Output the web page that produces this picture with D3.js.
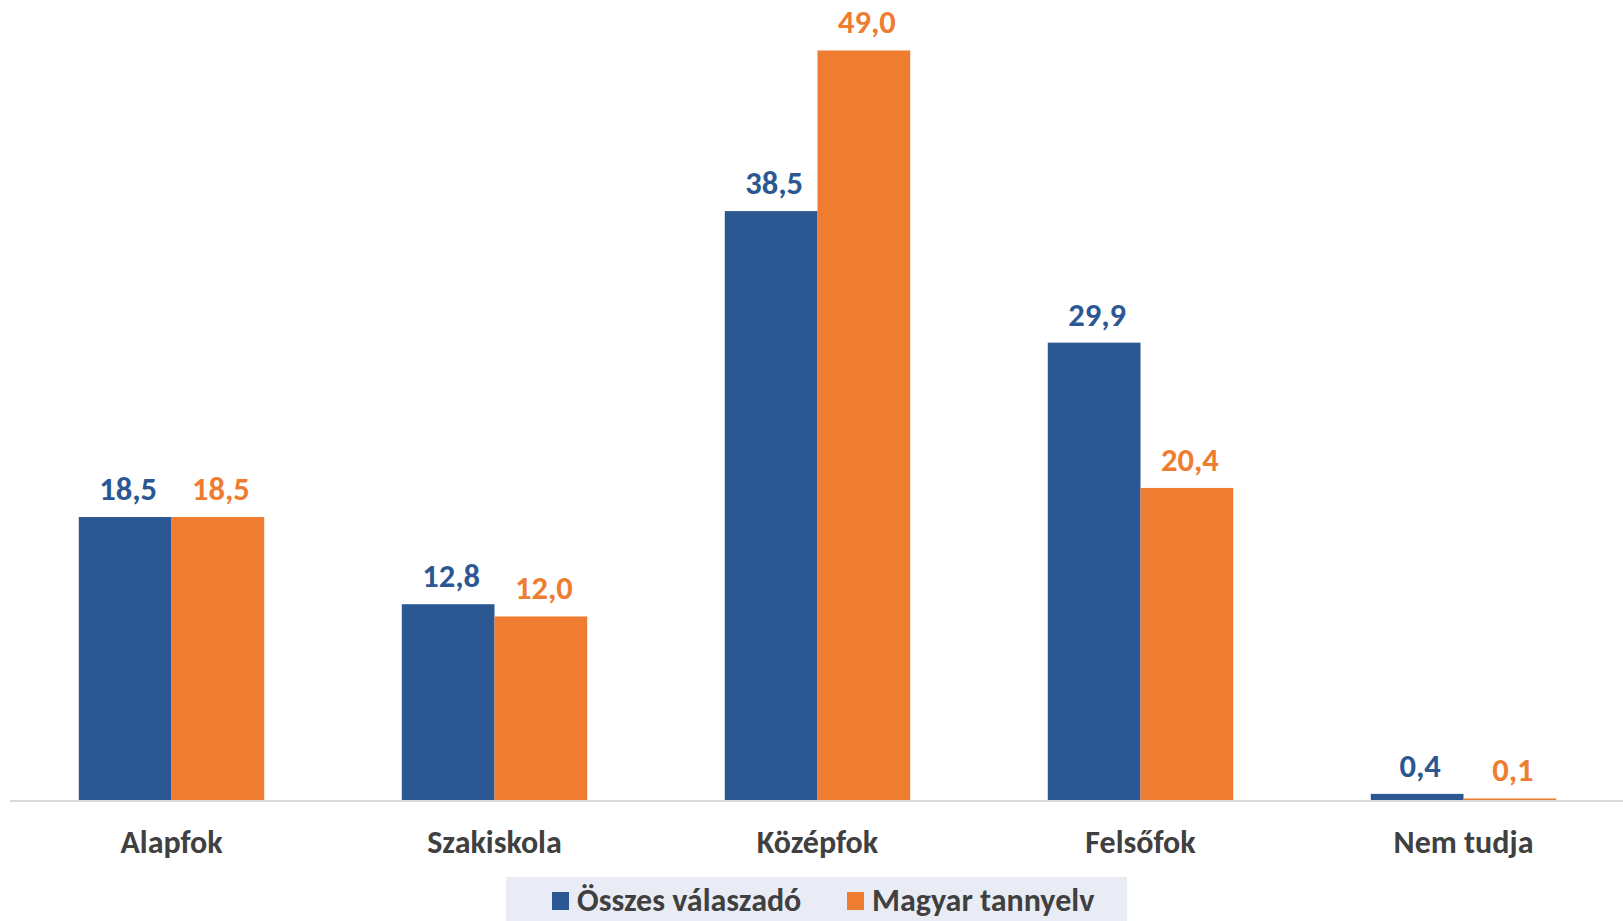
<!DOCTYPE html>
<html>
<head>
<meta charset="utf-8">
<script src="https://cdn.jsdelivr.net/npm/d3@7"></script>
<style>
  body { margin: 0; background: #fff; }
  svg { display: block; font-family: Carlito, "Open Sans", sans-serif; font-weight: bold; }
</style>
</head>
<body>
<svg></svg>
<script>
// dimensions
var svgWidth = 1623;
var svgHeight = 921;

// data
var categories = ["Alapfok", "Szakiskola", "Középfok", "Felsőfok", "Nem tudja"];
var seriesNames = ["Összes válaszadó", "Magyar tannyelv"];
var osszes = [18.5, 12.8, 38.5, 29.9, 0.4];
var magyar = [18.5, 12.0, 49.0, 20.4, 0.1];
var colors = ["#2b5792", "#ef7d31"];

var seriesValues = [osszes, magyar];

var svg = d3.select("svg")
  .attr("width", svgWidth)
  .attr("height", svgHeight);

var baseY = 800;

var x0 = d3.scaleBand()
  .domain(categories)
  .range([10, 1625])
  .padding(0);

var x1 = d3.scaleBand()
  .domain(seriesNames)
  .range([0, x0.bandwidth()])
  .paddingInner(0)
  .paddingOuter(0.742);

var y = d3.scaleLinear()
  .domain([0, 52.3])
  .range([baseY, 0]);

// flatten into rows for drawing
var rows = [];
categories.forEach(function(c, i) {
  seriesNames.forEach(function(s, j) {
    rows.push({ cat: c, series: s, value: seriesValues[j][i], color: colors[j] });
  });
});

var fmt = d => d.toFixed(1).replace(".", ",");

// bars
svg.selectAll(".bar")
  .data(rows)
  .enter()
  .append("rect")
  .attr("class", "bar")
  .attr("x", d => x0(d.cat) + x1(d.series))
  .attr("y", d => y(d.value))
  .attr("width", x1.bandwidth())
  .attr("height", d => baseY - y(d.value))
  .attr("fill", d => d.color);

// baseline
svg.append("line")
  .attr("x1", 10)
  .attr("x2", svgWidth)
  .attr("y1", baseY + 1)
  .attr("y2", baseY + 1)
  .attr("stroke", "#d9d9d9")
  .attr("stroke-width", 2);

// value labels
svg.selectAll(".val")
  .data(rows)
  .enter()
  .append("text")
  .attr("class", "val")
  .attr("x", d => x0(d.cat) + x1(d.series) + x1.bandwidth() / 2 + 3)
  .attr("y", d => y(d.value) - 17)
  .attr("text-anchor", "middle")
  .attr("font-size", 32.5)
  .attr("fill", d => d.color)
  .text(d => fmt(d.value));

// category labels
svg.selectAll(".cat")
  .data(categories)
  .enter()
  .append("text")
  .attr("class", "cat")
  .attr("x", d => x0(d) + x0.bandwidth() / 2)
  .attr("y", 853)
  .attr("text-anchor", "middle")
  .attr("font-size", 32)
  .attr("fill", "#404040")
  .text(d => d);

// legend
var legend = svg.append("g");
legend.append("rect")
  .attr("x", 506)
  .attr("y", 877)
  .attr("width", 621)
  .attr("height", 50)
  .attr("fill", "#e9ecf4");

var legendX = [552, 847];
seriesNames.forEach(function(s, j) {
  legend.append("rect")
    .attr("x", legendX[j])
    .attr("y", 892)
    .attr("width", 17)
    .attr("height", 18)
    .attr("fill", colors[j]);
  legend.append("text")
    .attr("x", legendX[j] + 25)
    .attr("y", 911)
    .attr("font-size", 32)
    .attr("fill", "#404040")
    .text(s);
});
</script>
</body>
</html>
